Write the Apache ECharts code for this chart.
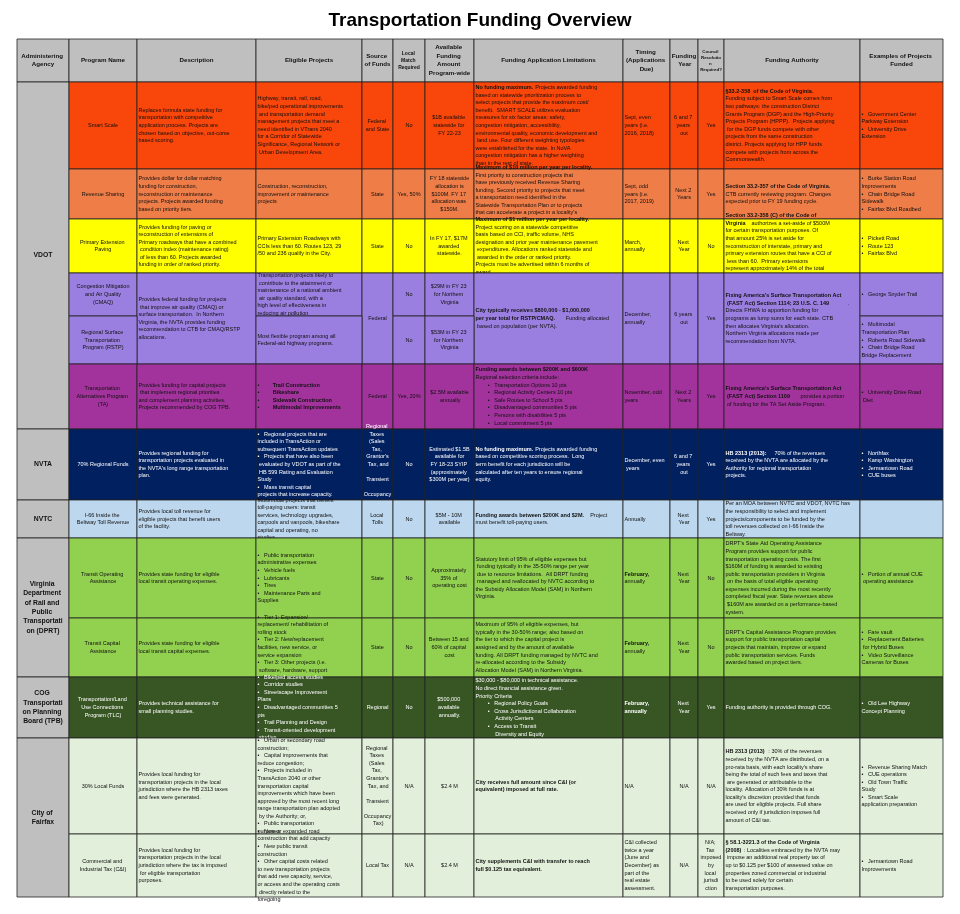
<!DOCTYPE html>
<html><head><meta charset="utf-8">
<script src="https://cdn.jsdelivr.net/npm/echarts@6/dist/echarts.min.js"></script>
<style>html,body{margin:0;padding:0;background:#fff}#c{width:960px;height:914px}</style>
</head><body><div id="c"></div>
<script>
// ---------- DATA ----------
const headers = ["Administering Agency","Program Name","Description","Eligible Projects","Source of Funds","Local Match Required","Available Funding Amount Program-wide","Funding Application Limitations","Timing (Applications Due)","Funding Year","Council Resolution Required?","Funding Authority","Examples of Projects Funded"];
const agencies = [["VDOT",0,5],["NVTA",6,6],["NVTC",7,7],["Virginia Department of Rail and Public Transportation (DPRT)",8,9],["COG Transportation Planning Board (TPB)",10,10],["City of Fairfax",11,12]];
const programs = ["Smart Scale","Revenue Sharing","Primary Extension Paving","Congestion Mitigation and Air Quality (CMAQ)","Regional Surface Transportation Program (RSTP)","Transportation Alternatives Program (TA)","70% Regional Funds","I-66 Inside the Beltway Toll Revenue","Transit Operating Assistance","Transit Capital Assistance","Transportation/Land Use Connections Program (TLC)","30% Local Funds","Commercial and Industrial Tax (C&I)"];
const descriptions = [
"Replaces formula state funding for transportation with competitive application process. Projects are chosen based on objective, out-come based scoring.",
"Provides dollar for dollar matching funding for construction, reconstruction or maintenance projects. Projects awarded funding based on priority tiers.",
"Provides funding for paving or reconstruction of extensions of Primary roadways that have a combined condition index (maintenance rating) of less than 60. Projects awarded funding in order of ranked priority.",
"Provides federal funding for projects that improve air quality (CMAQ) or surface transportation.  In Northern Virginia, the NVTA provides funding recommendation to CTB for CMAQ/RSTP allocations.",
null,
"Provides funding for capital projects that implement regional priorities and complement planning activities.  Projects recommended by COG TPB.",
"Provides regional funding for transportation projects evaluated in the NVTA's long range transportation plan.",
"Provides local toll revenue for eligible projects that benefit users of the facility.",
"Provides state funding for eligible local transit operating expenses.",
"Provides state funding for eligible local transit capital expenses.",
"Provides technical assistance for small planning studies.",
"Provides local funding for transportation projects in the local jurisdiction where the HB 2313 taxes and fees were generated.",
"Provides local funding for transportation projects in the local jurisdiction where the tax is imposed for eligible transportation purposes."];
const eligible = [
"Highway, transit, rail, road, bike/ped operational improvements and transportation demand management projects that meet a need identified in VTrans 2040 for a Corridor of Statewide Significance, Regional Network or Urban Development Area.",
"Construction, reconstruction, improvement or maintenance projects",
"Primary Extension Roadways with CCIs less than 60. Routes 123, 29/50 and 236 qualify in the City.",
"Transportation projects likely to contribute to the attainment or maintenance of a national ambient air quality standard, with a high level of effectiveness in reducing air pollution",
"Most flexible program among all Federal-aid highway programs.",
["**Trail Construction**","**Bikeshare**","**Sidewalk Construction**","**Multimodal Improvements**"],
["Regional projects that are included in TransAction or subsequent TransAction updates","Projects that have also been evaluated by VDOT as part of the HB 599 Rating and Evaluation Study","Mass transit capital projects that increase capacity."],
"Multimodal projects that benefit toll-paying users: transit services, technology upgrades, carpools and vanpools, bikeshare capital and operating, no studies.",
["Public transportation administrative expenses","Vehicle fuels","Lubricants","Tires","Maintenance Parts and Supplies"],
["Tier 1: Expansion/replacement/ rehabilitation of rolling stock","Tier 2: New/replacement facilities, new service, or service expansion","Tier 3: Other projects (i.e. software, hardware, support vehicles)"],
["Bike/ped access studies","Corridor studies","Streetscape Improvement Plans","Disadvantaged communities 5 pts","Trail Planning and Design","Transit-oriented development studies"],
["Urban or secondary road construction;","Capital improvements that reduce congestion;","Projects included in TransAction 2040 or other transportation capital improvements which have been approved by the most recent long range transportation plan adopted by the Authority; or,","Public transportation purposes"],
["New or expanded road construction that add capacity","New public transit construction","Other capital costs related to new transportation projects that add new capacity, service, or access and the operating costs directly related to the foregoing"]];
const sources = ["Federal and State","State","State","Federal",null,"Federal","Regional Taxes (Sales Tax, Grantor's Tax, and Transient Occupancy Tax)","Local Tolls","State","State","Regional","Regional Taxes (Sales Tax, Grantor's Tax, and Transient Occupancy Tax)","Local Tax"];
const localMatch = ["No","Yes, 50%","No","No","No","Yes, 20%","No","No","No","No","No","N/A","N/A"];
const amounts = ["$1B available statewide for FY 22-23","FY 18 statewide allocation is $100M. FY 17 allocation was $150M.","In FY 17, $17M awarded statewide.","$29M in FY 23 for Northern Virginia","$53M in FY 23 for Northern Virginia","$2.5M available annually","Estimated $1.5B available for FY 18-23 SYIP (approximately $300M per year)","$5M - 10M available","Approximately 35% of operating cost","Between 15 and 60% of capital cost","$500,000 available annually.","$2.4 M","$2.4 M"];
const limitations = [
"**No funding maximum.** Projects awarded funding based on statewide prioritization process to select projects that provide the maximum cost/benefit.  SMART SCALE utilizes evaluation measures for six factor areas: safety, congestion mitigation, accessibility, environmental quality, economic development and land use. Four different weighting typologies were established for the state. In NoVA congestion mitigation has a higher weighting than in the rest of state.",
"**Maximum of $10 million per year per locality.** First priority to construction projects that have previously received Revenue Sharing funding. Second priority to projects that meet a transportation need identified in the Statewide Transportation Plan or to projects that can accelerate a project in a locality's capital plan.",
"**Maximum of $1 million per year per locality.** Project scoring on a statewide competitive basis based on CCI, traffic volume, NHS designation and prior year maintenance pavement expenditures. Allocations ranked statewide and awarded in the order or ranked priority. Projects must be advertised within 6 months of award.",
"**City typically receives $800,000 - $1,000,000 per year total for RSTP/CMAQ.** Funding allocated based on population (per NVTA).",
null,
"**Funding awards between $200K and $600K**\nRegional selection criteria include:\n        •   Transportation Options 10 pts\n        •   Regional Activity Centers 10 pts\n        •   Safe Routes to School 5 pts\n        •   Disadvantaged communities 5 pts\n        •   Persons with disabilities 5 pts\n        •   Local commitment 5 pts",
"**No funding maximum.** Projects awarded funding based on competitive scoring process.  Long term benefit for each jurisdiction will be calculated after ten years to ensure regional equity.",
"**Funding awards between $200K and $2M.** Project must benefit toll-paying users.",
"Statutory limit of 95% of eligible expenses but funding typically in the 35-50% range per year due to resource limitations.  All DRPT funding managed and reallocated by NVTC according to the Subsidy Allocation Model (SAM) in Northern Virginia.",
"Maximum of 95% of eligible expenses, but typically in the 30-50% range; also based on the tier to which the capital project is assigned and by the amount of available funding. All DRPT funding managed by NVTC and re-allocated according to the Subsidy Allocation Model (SAM) in Northern Virginia.",
"$30,000 - $80,000 in technical assistance.\nNo direct financial assistance given.\nPriority Criteria\n        •   Regional Policy Goals\n        •   Cross Jurisdictional Collaboration\n             Activity Centers\n        •   Access to Transit\n             Diversity and Equity",
"**City receives full amount since C&I (or equivalent) imposed at full rate.**",
"**City supplements C&I with transfer to reach full $0.125 tax equivalent.**"];
const timing = ["Sept, even years (i.e. 2016, 2018)","Sept, odd years (i.e. 2017, 2019)","March, annually","December, annually",null,"November, odd years","December, even years","Annually","**February,** annually","**February,** annually","**February, annually**","N/A","C&I collected twice a year (June and December) as part of the real estate assessment."];
const fundingYear = ["6 and 7 years out","Next 2 Years","Next Year","6 years out",null,"Next 2 Years","6 and 7 years out","Next Year","Next Year","Next Year","Next Year","N/A","N/A"];
const council = ["Yes","Yes","No","Yes",null,"Yes","Yes","Yes","No","No","Yes","N/A","N/A; Tax imposed by local jurisdiction"];
const authority = [
"**§33.2-358  of the Code of Virginia.** Funding subject to Smart Scale comes from two pathways: the construction District Grants Program (DGP) and the High-Priority Projects Program (HPPP).  Projects applying for the DGP funds compete with other projects from the same construction district. Projects applying for HPP funds compete with projects from across the Commonwealth.",
"**Section 33.2-357 of the Code of Virginia.** CTB currently reviewing program. Changes expected prior to FY 19 funding cycle.",
"**Section 33.2-358 (C) of the Code of Virginia** authorizes a set-aside of $500M for certain transportation purposes. Of that amount 25% is set aside for reconstruction of interstate, primary and primary extension routes that have a CCI of less than 60.  Primary extensions represent approximately 14% of the total lane miles for this set aside.",
"**Fixing America's Surface Transportation Act (FAST Act) Section 1114; 23 U.S. C. 149**. Directs FHWA to apportion funding for programs as lump sums for each state. CTB then allocates Virginia's allocation. Northern Virginia allocations made per recommendation from NVTA.",
null,
"**Fixing America's Surface Transportation Act (FAST Act) Section 1109** provides a portion of funding for the TA Set Aside Program.",
"**HB 2313 (2013):**  70% of the revenues received by the NVTA are allocated by the Authority for regional transportation projects.",
"Per an MOA between NVTC and VDOT, NVTC has the responsibility to select and implement projects/components to be funded by the toll revenues collected on I-66 Inside the Beltway.",
"DRPT's State Aid Operating Assistance Program provides support for public transportation operating costs. The first $160M of funding is awarded to existing public transportation providers in Virginia on the basis of total eligible operating expenses incurred during the most recently completed fiscal year. State revenues above $160M are awarded on a performance-based system.",
"DRPT's Capital Assistance Program provides support for public transportation capital projects that maintain, improve or expand public transportation services. Funds awarded based on project tiers.",
"Funding authority is provided through COG.",
"**HB 2313 (2013)**: 30% of the revenues received by the NVTA are distributed, on a pro-rata basis, with each locality's share being the total of such fees and taxes that are generated or attributable to the locality. Allocation of 30% funds is at locality's discretion provided that funds are used for eligible projects. Full share received only if jurisdiction imposes full amount of C&I tax.",
"**§ 58.1-3221.3 of the Code of Virginia (2008)**: Localities embraced by the NVTA may impose an additional real property tax of up to $0.125 per $100 of assessed value on properties zoned commercial or industrial to be used solely for certain transportation purposes."];
const examples = [["Government Center Parkway Extension","University Drive Extension"],["Burke Station Road Improvements","Chain Bridge Road Sidewalk","Fairfax Blvd Roadbed"],["Pickett Road","Route 123","Fairfax Blvd"],["George Snyder Trail"],["Multimodal Transportation Plan","Roberts Road Sidewalk","Chain Bridge Road Bridge Replacement"],["University Drive Road Diet"],["Northfax","Kamp Washington","Jermantown Road","CUE buses"],[],["Portion of annual CUE operating assistance"],["Fare vault","Replacement Batteries for Hybrid Buses","Video Surveillance Cameras for Buses"],["Old Lee Highway Concept Planning"],["Revenue Sharing Match","CUE operations","Old Town Traffic Study","Smart Scale application preparation"],["Jermantown Road Improvements"]];

// ---------- LAYOUT / STYLE ----------
const colEdges = [17,69,137,256,362,393,425,474,623,670,698,724,860,943];
const rowEdges = [39,82,169,219,273,316,364,429,500,538,618,677,738,834,897];
const rowFill = ["#f9460b","#ef7d48","#ffff00","#9b7fe0","#9b7fe0","#a2339c","#002060","#bdd7ee","#92d050","#92d050","#375623","#e2efda","#e2efda"];
const rowText = ["#111","#111","#111","#111","#111","#111","#fff","#111","#111","#111","#fff","#111","#111"];
const colAlign = ["center","center","left","left","center","center","center","left","left","center","center","left","left"];
const mergedCols = [2,4,7,8,9,10,11]; // CMAQ/RSTP merged columns

function bullets(a){ return a.map(s=>"•   "+s).join("\n"); }
function rich(s){ return s.replace(/\*\*(.+?)\*\*/g,(m,t)=>"{b|"+t+"}"); }

const cells = [];
headers.forEach((h,c)=>cells.push({c0:c,c1:c+1,r0:0,r1:1,text:"**"+h+"**",fill:"#bfbfbf",color:"#111",align:"center",size:c===10?4.4:(c===5?5:6.2)}));
agencies.forEach(a=>cells.push({c0:0,c1:1,r0:a[1]+1,r1:a[2]+2,text:"**"+a[0]+"**",fill:"#bfbfbf",color:"#111",align:"center",size:6.8}));
const cols = [null,programs,descriptions,eligible,sources,localMatch,amounts,limitations,timing,fundingYear,council,authority,examples];
for(let r=0;r<programs.length;r++){
  for(let c=1;c<cols.length;c++){
    let v = cols[c][r];
    if(v===null) continue;
    if(Array.isArray(v)) v = bullets(v);
    let r1 = r+2;
    if(r===3 && mergedCols.includes(c)) r1 = r+3;
    cells.push({c0:c,c1:c+1,r0:r+1,r1:r1,text:v,fill:rowFill[r],color:rowText[r],align:colAlign[c],size:5.5});
  }
}

const chart = echarts.init(document.getElementById('c'));
chart.setOption({
  animation:false,
  title:{text:"Transportation Funding Overview",left:"center",top:6,textStyle:{fontFamily:"Liberation Sans",fontWeight:"bold",fontSize:19,color:"#000"}},
  grid:{left:0,right:0,top:0,bottom:0},
  xAxis:{type:"value",min:0,max:960,show:false},
  yAxis:{type:"value",min:0,max:914,inverse:true,show:false},
  series:[{
    type:"custom",clip:false,
    data:cells.map(d=>[colEdges[d.c0],rowEdges[d.r0],colEdges[d.c1],rowEdges[d.r1]]),
    renderItem:function(params,api){
      const d = cells[params.dataIndex];
      const p0 = api.coord([api.value(0),api.value(1)]);
      const p1 = api.coord([api.value(2),api.value(3)]);
      const w = p1[0]-p0[0], h = p1[1]-p0[1];
      const left = d.align==="left";
      return {type:"group",children:[
        {type:"rect",shape:{x:p0[0],y:p0[1],width:w,height:h},style:{fill:d.fill,stroke:"#222",lineWidth:0.8}},
        {type:"text",style:{
          text:rich(d.text),
          x:left?p0[0]+1.5:p0[0]+w/2, y:p0[1]+h/2,
          width:w-3, overflow:"break",
          align:left?"left":"center", verticalAlign:"middle",
          fontFamily:"Liberation Sans", fontSize:d.size, lineHeight:d.size*1.38,
          fill:d.color,
          rich:{b:{fontWeight:"bold",fontSize:d.size,lineHeight:d.size*1.38,fill:d.color}}
        }}
      ]};
    }
  }]
});
</script></body></html>
